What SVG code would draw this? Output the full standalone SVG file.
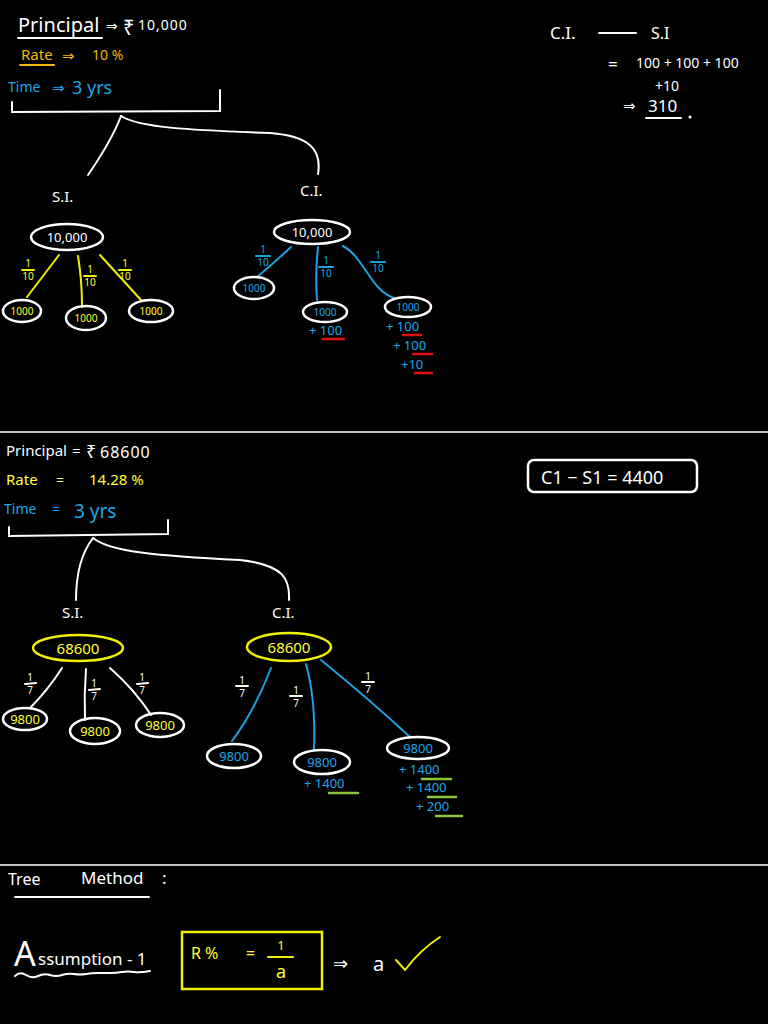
<svg xmlns="http://www.w3.org/2000/svg" width="768" height="1024" viewBox="0 0 768 1024">
<style>
text{font-family:"Noto Sans","DejaVu Sans",sans-serif;}
.w{fill:#ffffff}.y{fill:#ffff33}.o{fill:#f2b705}.b{fill:#1ea7e6}
.sw{stroke:#ffffff;fill:none;stroke-width:2;stroke-linecap:round}
.sy{stroke:#f0f000;fill:none;stroke-width:2;stroke-linecap:round}
.sb{stroke:#1e9fe0;fill:none;stroke-width:2;stroke-linecap:round}
.sr{stroke:#e01010;fill:none;stroke-width:2.5;stroke-linecap:round}
.sg{stroke:#8cc63f;fill:none;stroke-width:2.5;stroke-linecap:round}
.so{stroke:#f2b705;fill:none;stroke-width:2;stroke-linecap:round}
.nw{fill:none;stroke:#ffffff;stroke-width:2.5}
.ny{fill:none;stroke:#f0f000;stroke-width:2.5}
.t{font-size:13px}.f{font-size:10px}
</style>
<rect width="768" height="1024" fill="#000"/>

<!-- Section 1 header -->
<g id="given1">
<text x="18" y="32" class="w" font-size="20">Principal</text>
<line x1="18" y1="38" x2="102" y2="38" class="sw"/>
<text x="106" y="31" class="w" font-size="14">⇒</text>
<text x="123" y="35" class="w" font-size="20">₹</text>
<text x="138" y="30" class="w" font-size="14" letter-spacing="1">10,000</text>
<text x="21" y="60" class="o" font-size="15">Rate</text>
<line x1="20" y1="65" x2="54" y2="65" class="so"/>
<text x="62" y="61" class="o" font-size="15">⇒</text>
<text x="92" y="60" class="o" font-size="14">10 %</text>
<text x="8" y="92" class="b" font-size="14">Time</text>
<text x="52" y="93" class="b" font-size="15">⇒</text>
<text x="72" y="94" class="b" font-size="18">3 yrs</text>
</g>

<g id="diff1">
<text x="550" y="39" class="w" font-size="17">C.I.</text>
<line x1="599" y1="33" x2="636" y2="33" class="sw"/>
<text x="651" y="39" class="w" font-size="16">S.I</text>
<text x="608" y="70" class="w" font-size="17">=</text>
<text x="636" y="68" class="w" font-size="14">100 + 100 + 100</text>
<text x="655" y="91" class="w" font-size="14">+10</text>
<text x="623" y="111" class="w" font-size="15">⇒</text>
<text x="648" y="112" class="w" font-size="17">310</text>
<line x1="646" y1="118" x2="681" y2="118" class="sw"/>
<circle cx="690" cy="117" r="1.5" fill="#fff"/>
</g>

<g id="connectors">
<!-- section 1 bracket and split -->
<path class="sw" d="M12,102 L12,112 L220,111 L220,90"/>
<path class="sw" d="M121,116 Q112,140 88,175"/>
<path class="sw" d="M121,116 C140,128 190,130 270,133 C310,136 322,150 318,174"/>
<!-- S.I. 1 -->
<path class="sy" d="M59,255 L27,297"/>
<path class="sy" d="M78,256 Q82,280 82,307"/>
<path class="sy" d="M100,255 L141,300"/>
<!-- C.I. 1 -->
<path class="sb" d="M291,247 Q275,262 257,277"/>
<path class="sb" d="M318,247 Q315,275 317,300"/>
<path class="sb" d="M343,246 C365,258 370,290 394,298"/>
<!-- section 2 bracket and split -->
<path class="sw" d="M9,527 L9,536 L168,534 L168,520"/>
<path class="sw" d="M93,538 Q76,560 76,600"/>
<path class="sw" d="M93,538 C110,552 160,556 240,560 C285,565 290,580 289,600"/>
<!-- S.I. 2 -->
<path class="sw" d="M62,668 Q48,690 30,708"/>
<path class="sw" d="M86,669 Q84,695 85,720"/>
<path class="sw" d="M110,668 Q135,690 151,715"/>
<!-- C.I. 2 -->
<path class="sb" d="M271,668 Q255,710 232,741"/>
<path class="sb" d="M306,664 Q316,700 314,750"/>
<path class="sb" d="M321,660 Q370,700 410,737"/>
<!-- fractions section 1 -->
<g class="sy"><line x1="22" y1="270" x2="34" y2="270"/><line x1="84" y1="276" x2="96" y2="276"/><line x1="119" y1="270" x2="131" y2="270"/></g>
<g class="sb"><line x1="256" y1="256" x2="270" y2="256"/><line x1="319" y1="267" x2="333" y2="267"/><line x1="371" y1="262" x2="385" y2="262"/></g>
<!-- fractions section 2 -->
<g class="sw"><line x1="25" y1="684" x2="36" y2="683"/><line x1="89" y1="690" x2="100" y2="689"/><line x1="137" y1="684" x2="148" y2="683"/>
<line x1="236" y1="686" x2="248" y2="686"/><line x1="290" y1="696" x2="302" y2="696"/><line x1="362" y1="682" x2="374" y2="682"/></g>
</g>

<g id="fractionLabels">
<g class="y f" text-anchor="middle">
<text x="28" y="267">1</text><text x="28" y="280">10</text>
<text x="90" y="273">1</text><text x="90" y="286">10</text>
<text x="125" y="267">1</text><text x="125" y="280">10</text>
</g>
<g class="b f" text-anchor="middle">
<text x="263" y="253">1</text><text x="263" y="266">10</text>
<text x="326" y="264">1</text><text x="326" y="277">10</text>
<text x="378" y="259">1</text><text x="378" y="272">10</text>
</g>
<g class="w f" text-anchor="middle">
<text x="30" y="681">1</text><text x="30" y="694">7</text>
<text x="94" y="687">1</text><text x="94" y="700">7</text>
<text x="142" y="681">1</text><text x="142" y="694">7</text>
<text x="242" y="684">1</text><text x="242" y="697">7</text>
<text x="296" y="694">1</text><text x="296" y="707">7</text>
<text x="368" y="680">1</text><text x="368" y="693">7</text>
</g>
</g>

<g id="si1-label"><text x="52" y="202" class="w" font-size="15">S.I.</text></g>
<g id="ci1-label"><text x="300" y="196" class="w" font-size="15">C.I.</text></g>

<g id="si1-root"><ellipse cx="67" cy="237" rx="36" ry="13" class="nw"/><text x="67" y="242" class="w t" text-anchor="middle">10,000</text></g>
<g id="si1-c1"><ellipse cx="22" cy="311" rx="19" ry="11" class="nw"/><text x="22" y="315" class="y f" text-anchor="middle">1000</text></g>
<g id="si1-c2"><ellipse cx="86" cy="318" rx="20" ry="12" class="nw"/><text x="86" y="322" class="y f" text-anchor="middle">1000</text></g>
<g id="si1-c3"><ellipse cx="151" cy="311" rx="22" ry="11" class="nw"/><text x="151" y="315" class="y f" text-anchor="middle">1000</text></g>

<g id="ci1-root"><ellipse cx="312" cy="232" rx="38" ry="12" class="nw"/><text x="312" y="237" class="w t" text-anchor="middle">10,000</text></g>
<g id="ci1-c1"><ellipse cx="254" cy="288" rx="20" ry="11" class="nw"/><text x="254" y="292" class="b f" text-anchor="middle">1000</text></g>
<g id="ci1-c2"><ellipse cx="325" cy="312" rx="22" ry="10" class="nw"/><text x="325" y="316" class="b f" text-anchor="middle">1000</text>
<text x="309" y="335" class="b t">+ 100</text><line x1="323" y1="339" x2="344" y2="339" class="sr"/></g>
<g id="ci1-c3"><ellipse cx="408" cy="307" rx="23" ry="10" class="nw"/><text x="408" y="311" class="b f" text-anchor="middle">1000</text>
<text x="386" y="331" class="b t">+ 100</text><line x1="403" y1="335" x2="421" y2="335" class="sr"/>
<text x="393" y="350" class="b t">+ 100</text><line x1="413" y1="354" x2="432" y2="354" class="sr"/>
<text x="401" y="369" class="b t">+10</text><line x1="415" y1="373" x2="432" y2="373" class="sr"/></g>

<line x1="0" y1="432" x2="768" y2="432" stroke="#fff" stroke-width="1.5"/>

<!-- Section 2 -->
<g id="given2">
<text x="6" y="456" class="w" font-size="15">Principal</text>
<text x="72" y="456" class="w" font-size="15">=</text>
<text x="86" y="458" class="w" font-size="18">₹</text>
<text x="100" y="458" class="w" font-size="16" letter-spacing="1">68600</text>
<text x="6" y="485" class="y" font-size="15">Rate</text>
<text x="56" y="485" class="y" font-size="14">=</text>
<text x="89" y="485" class="y" font-size="15">14.28 %</text>
<text x="4" y="514" class="b" font-size="14">Time</text>
<text x="52" y="514" class="b" font-size="14">=</text>
<text x="74" y="518" class="b" font-size="19">3 yrs</text>
</g>

<g id="diff2">
<rect x="528" y="460" width="169" height="32" rx="6" class="nw" stroke-width="2"/>
<text x="541" y="484" class="w" font-size="18">C1 − S1 = 4400</text>
</g>

<g id="si2-label"><text x="62" y="618" class="w" font-size="15">S.I.</text></g>
<g id="ci2-label"><text x="272" y="618" class="w" font-size="15">C.I.</text></g>

<g id="si2-root"><ellipse cx="78" cy="648" rx="45" ry="13" class="ny"/><text x="78" y="654" class="y" font-size="15" text-anchor="middle">68600</text></g>
<g id="si2-c1"><ellipse cx="25" cy="719" rx="22" ry="11" class="nw"/><text x="25" y="724" class="y t" text-anchor="middle">9800</text></g>
<g id="si2-c2"><ellipse cx="95" cy="731" rx="25" ry="13" class="nw"/><text x="95" y="736" class="y t" text-anchor="middle">9800</text></g>
<g id="si2-c3"><ellipse cx="160" cy="725" rx="24" ry="12" class="nw"/><text x="160" y="730" class="y t" text-anchor="middle">9800</text></g>

<g id="ci2-root"><ellipse cx="289" cy="647" rx="42" ry="14" class="ny"/><text x="289" y="653" class="y" font-size="15" text-anchor="middle">68600</text></g>
<g id="ci2-c1"><ellipse cx="234" cy="756" rx="27" ry="12" class="nw"/><text x="234" y="761" class="b t" text-anchor="middle">9800</text></g>
<g id="ci2-c2"><ellipse cx="322" cy="762" rx="28" ry="12" class="nw"/><text x="322" y="767" class="b t" text-anchor="middle">9800</text>
<text x="304" y="788" class="b t">+ 1400</text><line x1="329" y1="793" x2="358" y2="793" class="sg"/></g>
<g id="ci2-c3"><ellipse cx="418" cy="748" rx="31" ry="11" class="nw"/><text x="418" y="753" class="b t" text-anchor="middle">9800</text>
<text x="399" y="774" class="b t">+ 1400</text><line x1="422" y1="779" x2="451" y2="779" class="sg"/>
<text x="406" y="792" class="b t">+ 1400</text><line x1="428" y1="797" x2="456" y2="797" class="sg"/>
<text x="416" y="811" class="b t">+ 200</text><line x1="436" y1="816" x2="462" y2="816" class="sg"/></g>

<line x1="0" y1="865" x2="768" y2="865" stroke="#fff" stroke-width="1.5"/>

<!-- Section 3 -->
<g id="tree-method">
<text x="8" y="885" class="w" font-size="16">Tree</text>
<text x="81" y="884" class="w" font-size="17">Method</text>
<text x="162" y="884" class="w" font-size="17">:</text>
<line x1="15" y1="897" x2="149" y2="897" class="sw"/>
</g>

<g id="assumption">
<text x="14" y="966" class="w" font-size="34">A</text>
<text x="38" y="965" class="w" font-size="17">ssumption - 1</text>
<path class="sw" d="M15,976 Q20,971 26,975 T38,976 T50,975 T62,975 T74,974 T86,974 T98,973 T110,973 T122,972 T134,972 T150,971"/>
</g>

<g id="rule-box">
<rect x="182" y="932" width="140" height="57" class="ny" stroke-width="2"/>
<text x="191" y="959" class="y" font-size="16">R %</text>
<text x="246" y="959" class="y" font-size="16">=</text>
<text x="281" y="950" class="y" font-size="13" text-anchor="middle">1</text>
<line x1="268" y1="957" x2="293" y2="957" class="sy"/>
<text x="281" y="978" class="y" font-size="18" text-anchor="middle">a</text>
</g>

<g id="result">
<text x="333" y="970" class="w" font-size="18">⇒</text>
<text x="373" y="971" class="w" font-size="20">a</text>
<path class="sy" d="M396,960 L405,970 Q420,950 440,937"/>
</g>
</svg>
